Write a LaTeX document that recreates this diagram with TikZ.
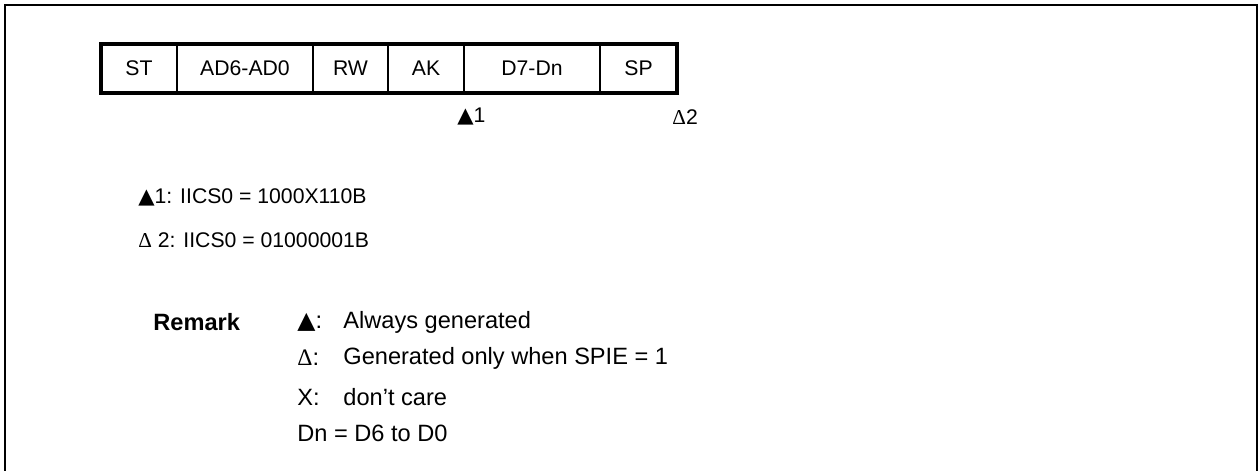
\documentclass[tikz,border=0pt]{standalone}
\usepackage{fontspec}
\setmainfont{Liberation Sans}
\newfontfamily\shapefont{DejaVu Sans}
\newfontfamily\deltafont{Liberation Serif}
\usetikzlibrary{positioning}

\newcommand{\up}{{\shapefont\char"25B2}}
\newcommand{\dlt}{{\deltafont\char"0394}}

\begin{document}
\begin{tikzpicture}[x=0.5pt, y=-0.5pt, every node/.style={font=\fontsize{11.8}{14}\selectfont},
  cell/.style={rectangle, draw, line width=0.7pt, minimum height=24.5pt, inner sep=0pt, outer sep=0pt, font=\fontsize{10.6}{13}\selectfont},
  txt/.style={anchor=west, inner sep=0pt},
  smalltxt/.style={txt, font=\fontsize{10.6}{13}\selectfont},
  frameline/.style={line width=1pt},
  border/.style={line width=1.6pt}
]
\useasboundingbox (0,0) rectangle (1260,471);

% outer frame
\draw[frameline] (4.5,520) -- (4.5,5) -- (1256.5,5) -- (1256.5,520);

% frame format
\node[cell, minimum width=38pt, anchor=north west] (st) at (101,44) {ST};
\node[cell, minimum width=68pt, right=0pt of st] (ad) {AD6-AD0};
\node[cell, minimum width=37.5pt, right=0pt of ad] (rw) {RW};
\node[cell, minimum width=38pt, right=0pt of rw] (ak) {AK};
\node[cell, minimum width=68pt, right=0pt of ak] (dat) {D7-Dn};
\node[cell, minimum width=38.5pt, right=0pt of dat] (sp) {SP};
\draw[border] (st.north west) rectangle (sp.south east);

% interrupt points
\node[smalltxt] (int1) at (457,117) {\up 1};
\node[smalltxt] (int2) at (672,117) {\dlt2};

% register values
\node[smalltxt] (val1) at (138,197) {\up 1: IICS0 = 1000X110B};
\node[smalltxt] (val2) at (138,240) {\dlt\ 2: IICS0 = 01000001B};

% remark
\node[txt, font=\fontsize{11.8}{14}\selectfont\bfseries] (rem) at (153,322) {Remark};
\node[txt] (k1) at (297,322) {\up:};
\node[txt] (d1) at (343,322) {Always generated};
\node[txt] (k2) at (297,358) {\dlt:};
\node[txt] (d2) at (343,358) {Generated only when SPIE = 1};
\node[txt] (k3) at (297,397) {X:};
\node[txt] (d3) at (343,397) {don’t care};
\node[txt] (k4) at (297,433) {Dn = D6 to D0};

\end{tikzpicture}
\end{document}
